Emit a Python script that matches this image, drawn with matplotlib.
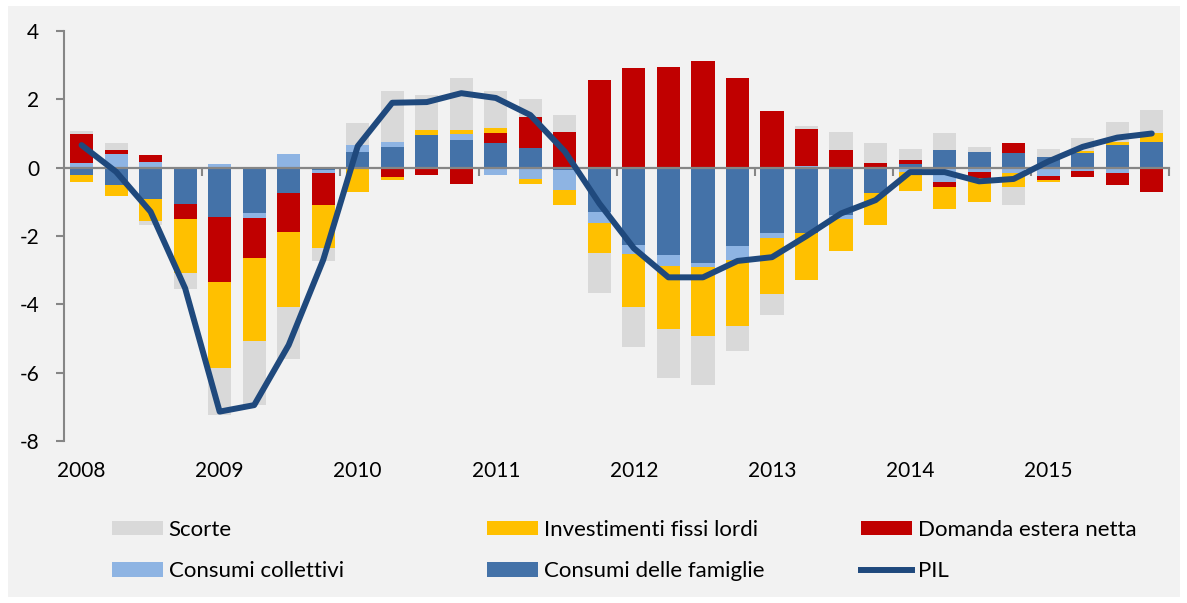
import numpy as np
import matplotlib
matplotlib.use("Agg")
import matplotlib.pyplot as plt
from matplotlib.patches import Rectangle, Patch
from matplotlib.lines import Line2D
from matplotlib.transforms import blended_transform_factory

plt.rcParams['font.family'] = ['Lato', 'DejaVu Sans']
plt.rcParams['axes.unicode_minus'] = False

years = [2008, 2009, 2010, 2011, 2012, 2013, 2014, 2015]

famiglie = [-0.20, -0.51, -0.93, -1.07,
            -1.43, -1.32, -0.73, -0.06,
            0.47, 0.60, 0.96, 0.81,
            0.71, 0.57, -0.06, -1.29,
            -2.26, -2.56, -2.80, -2.29,
            -1.91, -1.92, -1.38, -0.75,
            0.10, 0.52, 0.47, 0.42,
            0.30, 0.42, 0.66, 0.75]
collettivi = [0.13, 0.41, 0.16, 0.00,
              0.11, -0.16, 0.39, -0.09,
              0.20, 0.15, 0.00, 0.19,
              -0.20, -0.34, -0.59, -0.32,
              -0.27, -0.31, -0.11, -0.41,
              -0.14, 0.04, -0.13, 0.00,
              -0.12, -0.41, -0.12, -0.15,
              -0.24, -0.10, -0.15, 0.00]
estera = [0.86, 0.11, 0.20, -0.43,
          -1.93, -1.15, -1.14, -0.94,
          0.00, -0.27, -0.22, -0.47,
          0.30, 0.90, 1.05, 2.57,
          2.92, 2.95, 3.12, 2.62,
          1.66, 1.10, 0.52, 0.15,
          0.13, -0.17, -0.18, 0.31,
          -0.12, -0.17, -0.36, -0.70]
investimenti = [-0.23, -0.31, -0.63, -1.57,
                -2.49, -2.45, -2.20, -1.27,
                -0.70, -0.08, 0.15, 0.11,
                0.14, -0.13, -0.43, -0.90,
                -1.56, -1.86, -2.01, -1.92,
                -1.65, -1.37, -0.93, -0.93,
                -0.56, -0.62, -0.71, -0.41,
                -0.06, 0.08, 0.10, 0.27]
scorte = [0.09, 0.20, -0.12, -0.49,
          -1.40, -1.87, -1.52, -0.36,
          0.65, 1.49, 1.03, 1.52,
          1.09, 0.53, 0.50, -1.17,
          -1.17, -1.44, -1.44, -0.76,
          -0.62, 0.07, 0.53, 0.56,
          0.32, 0.49, 0.13, -0.53,
          0.26, 0.36, 0.58, 0.67]
pil = [0.66, -0.12, -1.29, -3.53,
       -7.14, -6.95, -5.19, -2.70,
       0.63, 1.90, 1.92, 2.18,
       2.04, 1.54, 0.47, -1.05,
       -2.36, -3.21, -3.21, -2.73,
       -2.62, -2.00, -1.34, -0.95,
       -0.13, -0.13, -0.40, -0.33,
       0.18, 0.61, 0.88, 1.00]

labels = {
    'famiglie': 'Consumi delle famiglie',
    'collettivi': 'Consumi collettivi',
    'estera': 'Domanda estera netta',
    'investimenti': 'Investimenti fissi lordi',
    'scorte': 'Scorte',
    'pil': 'PIL',
}
colors = {
    'famiglie': '#4472a8',
    'collettivi': '#8eb4e3',
    'estera': '#c00000',
    'investimenti': '#ffc000',
    'scorte': '#d9d9d9',
    'pil': '#1f497d',
}

W, H = 1187, 603
fig = plt.figure(figsize=(W / 100, H / 100), dpi=100)
fig.patch.set_facecolor('white')
fig.patches.append(Rectangle((8 / W, 6 / H), (1180 - 8) / W, (597 - 6) / H,
                             transform=fig.transFigure, facecolor='#f2f2f2',
                             edgecolor='none', zorder=-10))

ax = fig.add_axes([64.3 / W, 1 - 441 / H, (1169 - 64.3) / W, 410 / H])
ax.set_facecolor('none')

n = len(pil)
x = np.arange(n)
pos = np.zeros(n)
neg = np.zeros(n)
series = [('famiglie', famiglie), ('collettivi', collettivi), ('estera', estera),
          ('investimenti', investimenti), ('scorte', scorte)]
for key, vals in series:
    v = np.array(vals)
    b = np.where(v >= 0, pos, neg)
    ax.bar(x, v, width=0.67, bottom=b, color=colors[key], linewidth=0, zorder=1)
    pos = pos + np.where(v >= 0, v, 0)
    neg = neg + np.where(v < 0, v, 0)

ax.plot(x, pil, color=colors['pil'], lw=4.3, solid_capstyle='round',
        solid_joinstyle='round', zorder=5)

ax.set_xlim(-0.5, n - 0.5)
ax.set_ylim(-8, 4)

for s in ['top', 'right']:
    ax.spines[s].set_visible(False)
ax.spines['left'].set_color('#868686')
ax.spines['left'].set_linewidth(1.5)
ax.spines['bottom'].set_position(('data', 0))
ax.spines['bottom'].set_color('#868686')
ax.spines['bottom'].set_linewidth(1.6)
ax.spines['bottom'].set_zorder(3)

ax.set_yticks(np.arange(-8, 5, 2))
ax.set_yticklabels([str(v) for v in range(-8, 5, 2)])
ax.set_xticks(np.arange(3.5, n, 4))
ax.set_xticklabels([])
ax.tick_params(axis='y', direction='out', length=6, width=1.5, color='#868686',
               labelsize=15, pad=12, labelcolor='black')
ax.tick_params(axis='x', direction='out', length=6, width=1.5, color='#868686')

trans = blended_transform_factory(ax.transData, ax.transAxes)
for i, yr in enumerate(years):
    ax.text(i * 4, -0.072, str(yr), transform=trans, ha='center', va='center',
            fontsize=15, color='black')

def ph(key):
    return Patch(facecolor=colors[key], edgecolor='none', label=labels[key])

columns = [
    (112, [ph('scorte'), ph('collettivi')]),
    (487, [ph('investimenti'), ph('famiglie')]),
    (861, [ph('estera'), Line2D([], [], color=colors['pil'], lw=4.3, label=labels['pil'])]),
]
for xpx, handles in columns:
    fig.legend(handles=handles, loc='center left',
               bbox_to_anchor=(xpx / W, 1 - 550.5 / H), frameon=False,
               fontsize=16, handlelength=2.3, handleheight=0.65,
               handletextpad=0.25, labelspacing=0.97, borderpad=0,
               borderaxespad=0)

fig.savefig('out.png', dpi=100, facecolor=fig.get_facecolor())
